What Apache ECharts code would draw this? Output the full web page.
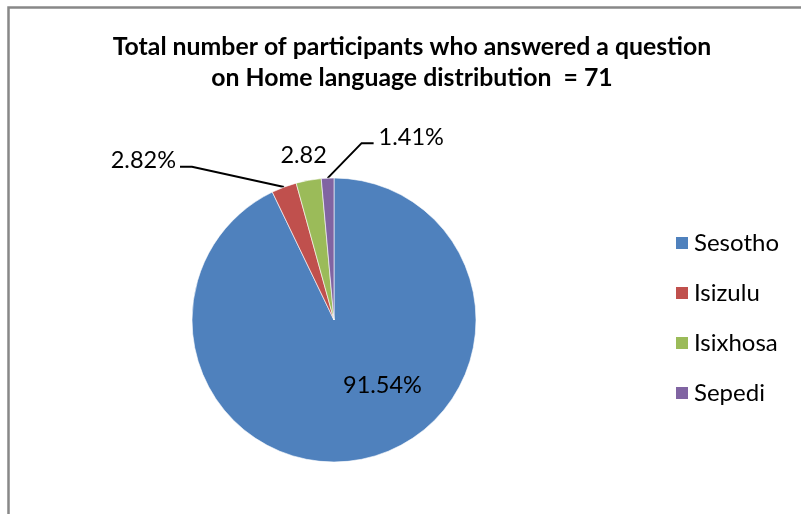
<!DOCTYPE html>
<html><head><meta charset="utf-8">
<script src="https://cdn.jsdelivr.net/npm/echarts@6/dist/echarts.min.js"></script>
<style>html,body{margin:0;padding:0;background:#fff}#c{width:801px;height:514px}</style>
</head><body><div id="c"></div>
<script>
const categories = ['Sesotho', 'Isizulu', 'Isixhosa', 'Sepedi'];
const percentages = [91.54, 2.82, 2.82, 1.41];
const labelTexts = ['91.54%', '2.82%', '2.82', '1.41%'];
const colors = ['#4F81BD', '#C0504D', '#9BBB59', '#8064A2'];
const titleLines = ['Total number of participants who answered a question', 'on Home language distribution  = 71'];

const FONT = 'Lato';
const chart = echarts.init(document.getElementById('c'), null, {renderer: 'canvas'});

const data = categories.map((name, i) => {
  const item = {
    name: name,
    value: percentages[i],
    itemStyle: {color: colors[i]},
    label: {formatter: labelTexts[i]}
  };
  if (i === 0) {
    item.label.position = 'inside';
  } else if (i === 1) {
    item.labelLine = {show: true, length: 21.8, length2: 96.4};
  } else if (i === 2) {
    item.labelLine = {show: false, length: 10, length2: 0};
  } else {
    item.labelLine = {show: true, length: 10, length2: 10};
  }
  return item;
});

chart.setOption({
  animation: false,
  backgroundColor: '#fff',
  color: colors,
  graphic: [{
    type: 'rect',
    shape: {x: 8.5, y: 7.5, width: 900, height: 700},
    style: {fill: 'none', stroke: '#888888', lineWidth: 2.5},
    silent: true,
    z: -1
  }],
  title: {
    text: titleLines.join('\n'),
    left: 412,
    top: 32,
    padding: 0,
    textAlign: 'center',
    textStyle: {fontFamily: FONT, fontWeight: 'bold', fontSize: 24.8, lineHeight: 31, color: '#000'}
  },
  legend: {
    orient: 'vertical',
    left: 674,
    top: 231,
    padding: 0,
    itemWidth: 14,
    itemHeight: 14,
    itemGap: 26,
    icon: 'rect',
    data: categories,
    textStyle: {fontFamily: FONT, fontSize: 24, color: '#000'}
  },
  series: [{
    type: 'pie',
    center: [334, 320],
    radius: 142,
    startAngle: 90,
    clockwise: true,
    avoidLabelOverlap: false,
    itemStyle: {borderColor: '#ffffff', borderWidth: 0.6},
    label: {
      show: true,
      position: 'outside',
      fontFamily: FONT,
      fontSize: 23.5,
      color: '#000',
      distanceToLabelLine: 5
    },
    labelLine: {lineStyle: {color: '#000', width: 2}},
    emphasis: {disabled: true},
    labelLayout: function (p) {
      const i = p.dataIndex;
      if (i === 0) return {dx: 32, dy: -7};
      if (i === 1) {
        const pts = p.labelLinePoints;
        if (!pts) return {};
        const end = pts[2];
        return {x: end[0] - 4, y: end[1] - 6, align: 'right', verticalAlign: 'middle',
          labelLinePoints: [pts[0], [end[0] + 12, end[1]], end]};
      }
      if (i === 2) return {dx: 25, dy: -15};
      if (i === 3) {
        const pts = p.labelLinePoints;
        if (!pts) return {};
        const s = pts[0];
        const bend = [s[0] + 34, s[1] - 35];
        const end = [bend[0] + 12, bend[1]];
        return {x: end[0] + 5, y: end[1] - 6, align: 'left', verticalAlign: 'middle', labelLinePoints: [s, bend, end]};
      }
      return {};
    },
    data: data
  }]
});
</script>
</body></html>
